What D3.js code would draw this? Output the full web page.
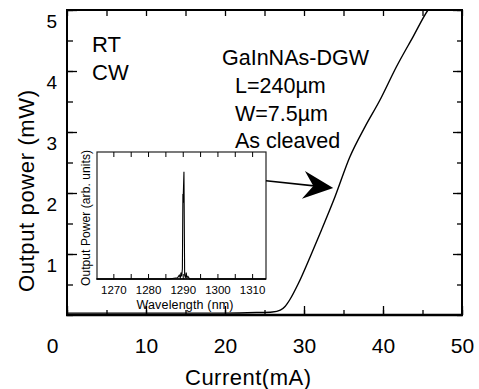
<!DOCTYPE html>
<html>
<head>
<meta charset="utf-8">
<script src="https://cdn.jsdelivr.net/npm/d3@7/dist/d3.min.js"></script>
<style>
  body { margin: 0; background: #fff; }
  svg { display: block; font-family: "Liberation Sans", Arial, sans-serif; }
</style>
</head>
<body>
<div id="chart"></div>
<script>
// L-I curve (current in mA, output power in mW)
const current = [0, 5, 10, 15, 20, 24, 26, 27, 27.6, 28.2, 29.3, 30.8, 32.2, 33.9, 35.8, 37.7, 39.6, 41.7, 43.8, 45.7, 46.3];
const power   = [0.03, 0.03, 0.03, 0.03, 0.03, 0.04, 0.05, 0.08, 0.14, 0.25, 0.52, 0.96, 1.39, 1.93, 2.59, 3.08, 3.52, 4.07, 4.56, 5.0, 5.1];

// inset lasing spectrum
const wavelength = [1265, 1286, 1288.5, 1289.0, 1289.3, 1289.5, 1289.7, 1289.9, 1290.05, 1290.1, 1290.35, 1290.55, 1290.8, 1291.0, 1291.2, 1291.5, 1292, 1314];
const specPower  = [0, 0, 0.01, 0.03, 0.01, 0.05, 0.02, 0.08, 0.67, 0.6, 0.845, 0.03, 0.01, 0.05, 0.01, 0.02, 0, 0];

const xTicks = [0, 10, 20, 30, 40, 50];
const yTicks = [1, 2, 3, 4, 5];
const insetTicks = [1270, 1280, 1290, 1300, 1310];

const labels = ["GaInNAs-DGW", "L=240\u00b5m", "W=7.5\u00b5m", "As cleaved"];

const width = 479, height = 389;
const svg = d3.select("#chart").append("svg")
    .attr("width", width).attr("height", height);

const mLeft = 67, mRight = 462, mTop = 10, mBottom = 315;

const x = d3.scaleLinear().domain([0, 50]).range([mLeft, mRight]);
const y = d3.scaleLinear().domain([0, 5]).range([mBottom, mTop]);

const minorX = d3.range(0, 51, 5);
const minorY = d3.range(0, 5.01, 0.5);

// clip for the curve
svg.append("clipPath").attr("id", "plotclip")
  .append("rect").attr("x", mLeft).attr("y", mTop).attr("width", mRight - mLeft).attr("height", mBottom - mTop);

//minor ticks all round
svg.append("g").attr("transform", `translate(0,${mBottom})`)
    .call(d3.axisBottom(x).tickValues(minorX).tickSize(-5).tickFormat(""));
svg.append("g").attr("transform", `translate(0,${mTop})`)
    .call(d3.axisTop(x).tickValues(minorX).tickSize(-6).tickFormat(""));
svg.append("g").attr("transform", `translate(${mLeft},0)`)
    .call(d3.axisLeft(y).tickValues(minorY).tickSize(-6).tickFormat(""));
svg.append("g").attr("transform", `translate(${mRight},0)`)
    .call(d3.axisRight(y).tickValues(minorY).tickSize(-5).tickFormat(""));

// major ticks with labels
const xAxis = svg.append("g").attr("transform", `translate(0,${mBottom})`)
    .call(d3.axisBottom(x).tickValues(xTicks).tickSize(-9).tickPadding(23).tickFormat(d3.format("d")));
xAxis.selectAll("text").attr("font-size", 21).attr("fill", "#000")
    .attr("dx", d => d === 0 ? -15 : 0);

const yAxis = svg.append("g").attr("transform", `translate(${mLeft},0)`)
    .call(d3.axisLeft(y).tickValues(yTicks).tickSize(-10).tickPadding(10).tickFormat(d3.format("d")));
yAxis.selectAll("text").attr("font-size", 19).attr("fill", "#000").attr("dy", "0.9em");

svg.append("g").attr("transform", `translate(${mRight},0)`)
    .call(d3.axisRight(y).tickValues(yTicks).tickSize(-9).tickFormat(""));

svg.selectAll(".domain").remove();
svg.selectAll(".tick line").attr("stroke", "#000").attr("stroke-width", 1.3);

// frame
svg.append("line").attr("x1", mLeft).attr("x2", mRight).attr("y1", mTop).attr("y2", mTop)
    .attr("stroke", "#000").attr("stroke-width", 1.8);
svg.append("line").attr("x1", mRight).attr("x2", mRight).attr("y1", mTop - 1).attr("y2", mBottom)
    .attr("stroke", "#000").attr("stroke-width", 2);
svg.append("line").attr("x1", mLeft).attr("x2", mLeft).attr("y1", mTop - 1).attr("y2", mBottom)
    .attr("stroke", "#000").attr("stroke-width", 2);
svg.append("line").attr("x1", mLeft - 1).attr("x2", mRight + 1).attr("y1", mBottom).attr("y2", mBottom)
    .attr("stroke", "#000").attr("stroke-width", 2.7);

// L-I curve
const liData = current.map((c, i) => ({c: c, p: power[i]}));
svg.append("path")
    .datum(liData)
    .attr("clip-path", "url(#plotclip)")
    .attr("fill", "none")
    .attr("stroke", "#000")
    .attr("stroke-width", 1.4)
    .attr("d", d3.line().x(d => x(d.c)).y(d => y(d.p)).curve(d3.curveMonotoneX));

// axis titles
svg.append("text")
    .attr("x", 248).attr("y", 385)
    .attr("text-anchor", "middle")
    .attr("font-size", 22)
    .attr("textLength", 126)
    .text("Current(mA)");

svg.append("text")
    .attr("transform", "translate(34,191) rotate(-90)")
    .attr("text-anchor", "middle")
    .attr("font-size", 22)
    .attr("textLength", 202)
    .text("Output power (mW)");

// RT / CW
svg.append("text").attr("x", 92).attr("y", 52).attr("font-size", 22).text("RT");
svg.append("text").attr("x", 92).attr("y", 80).attr("font-size", 22).text("CW");

// device description
labels.forEach((t, i) => {
    svg.append("text")
        .attr("x", i === 0 ? 222 : 235)
        .attr("y", 65 + i * 27.8)
        .attr("font-size", 21.5)
        .text(t);
});

// ---------- inset ----------
const ix = d3.scaleLinear().domain([1265, 1314]).range([96, 266]);
const iy = d3.scaleLinear().domain([0, 1]).range([279, 152]);
const minorI = d3.range(1270, 1311, 5);

const inset = svg.append("g");
inset.append("rect")
    .attr("x", ix(1265) + 1).attr("y", iy(1))
    .attr("width", ix(1314) - ix(1265) - 1).attr("height", iy(0) - iy(1))
    .attr("fill", "#fff").attr("stroke", "#222").attr("stroke-width", 1.2);

inset.append("g").attr("transform", `translate(0,${iy(0)})`)
    .call(d3.axisBottom(ix).tickValues(minorI).tickSize(-5).tickFormat(""));
inset.append("g").attr("transform", `translate(0,${iy(1)})`)
    .call(d3.axisTop(ix).tickValues(minorI).tickSize(-5).tickFormat(""));
const ixAxis = inset.append("g").attr("transform", `translate(0,${iy(0)})`)
    .call(d3.axisBottom(ix).tickValues(insetTicks).tickSize(0).tickPadding(7).tickFormat(d3.format("d")));
ixAxis.selectAll("text").attr("font-size", 11.5).attr("fill", "#000");
inset.selectAll(".domain").remove();
inset.selectAll(".tick line").attr("stroke", "#000").attr("stroke-width", 1);

inset.append("line")
    .attr("x1", ix(1265) + 1).attr("x2", ix(1314)).attr("y1", iy(0)).attr("y2", iy(0))
    .attr("stroke", "#000").attr("stroke-width", 1.6);

const specData = wavelength.map((w, i) => ({w: w, p: specPower[i]}));
inset.append("path")
    .datum(specData)
    .attr("fill", "none")
    .attr("stroke", "#000")
    .attr("stroke-width", 1.1)
    .attr("d", d3.line().x(d => ix(d.w)).y(d => iy(d.p)));

inset.append("text")
    .attr("x", 185).attr("y", 309)
    .attr("text-anchor", "middle")
    .attr("font-size", 12.5)
    .attr("textLength", 97)
    .text("Wavelength (nm)");

inset.append("text")
    .attr("transform", "translate(90,218) rotate(-90)")
    .attr("text-anchor", "middle")
    .attr("font-size", 12)
    .attr("textLength", 136)
    .text("Output Power (arb. units)");

// arrow from inset to the curve
const a0 = [ix(1314), y(2.2)], a1 = [x(33.7), y(2.08)];
svg.append("line")
    .attr("x1", a0[0]).attr("y1", a0[1]).attr("x2", a1[0] - 12).attr("y2", a1[1] - 1.5)
    .attr("stroke", "#000").attr("stroke-width", 1.6);
const ang = Math.atan2(a1[1] - a0[1], a1[0] - a0[0]) * 180 / Math.PI;
svg.append("path")
    .attr("transform", `translate(${a1[0]},${a1[1]}) rotate(${ang})`)
    .attr("d", "M0,0 L-30,-14 L-20,0 L-30,14 Z")
    .attr("fill", "#000");
</script>
</body>
</html>
